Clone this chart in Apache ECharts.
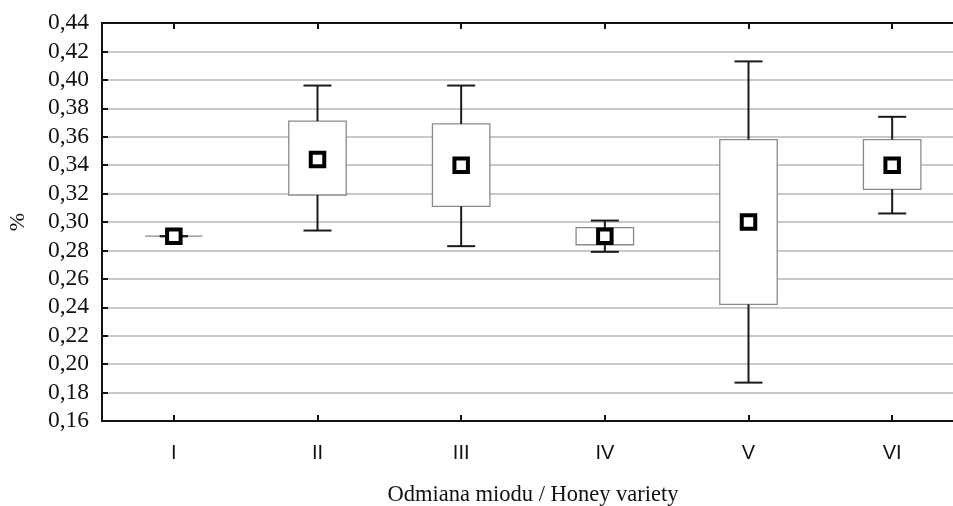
<!DOCTYPE html>
<html>
<head>
<meta charset="utf-8">
<script src="https://cdn.jsdelivr.net/npm/echarts@6/dist/echarts.min.js"></script>
<style>
  html, body { margin: 0; padding: 0; background: #fff; overflow: hidden; }
  #chart { width: 953px; height: 506px; }
</style>
</head>
<body>
<div id="chart"></div>
<script>
// Data
const categories   = ['I', 'II', 'III', 'IV', 'V', 'VI'];
const whiskerLow   = [0.290, 0.294, 0.283, 0.279, 0.187, 0.306];
const boxLow       = [0.290, 0.319, 0.311, 0.284, 0.242, 0.323];
const meanValue    = [0.290, 0.344, 0.340, 0.290, 0.300, 0.340];
const boxHigh      = [0.290, 0.371, 0.369, 0.296, 0.358, 0.358];
const whiskerHigh  = [0.290, 0.396, 0.396, 0.301, 0.413, 0.374];
const yTickValues  = [0.16, 0.18, 0.20, 0.22, 0.24, 0.26, 0.28, 0.30, 0.32, 0.34, 0.36, 0.38, 0.40, 0.42, 0.44];

const seriesData = categories.map((c, i) => [i, whiskerLow[i], boxLow[i], meanValue[i], boxHigh[i], whiskerHigh[i]]);

const chart = echarts.init(document.getElementById('chart'), null, { renderer: 'canvas' });

function renderItem(params, api) {
  const idx = api.value(0);
  const band = api.size([1, 0])[0];
  const boxW = band * 0.40;
  const capW = band * 0.195;
  const pWL = api.coord([idx, api.value(1)]);
  const pBL = api.coord([idx, api.value(2)]);
  const pM  = api.coord([idx, api.value(3)]);
  const pBH = api.coord([idx, api.value(4)]);
  const pWH = api.coord([idx, api.value(5)]);
  const x = pM[0];
  const black = '#1a1a1a';
  const children = [];
  children.push({
    type: 'rect',
    shape: { x: x - boxW / 2, y: pBH[1], width: boxW, height: Math.max(pBL[1] - pBH[1], 0) },
    style: { fill: '#ffffff', stroke: '#8a8a8a', lineWidth: 1.3 }
  });
  children.push({
    type: 'line',
    shape: { x1: x, y1: pWH[1], x2: x, y2: pBH[1] },
    style: { stroke: black, lineWidth: 2 }
  });
  children.push({
    type: 'line',
    shape: { x1: x, y1: pBL[1], x2: x, y2: pWL[1] },
    style: { stroke: black, lineWidth: 2 }
  });
  children.push({
    type: 'line',
    shape: { x1: x - capW / 2, y1: pWH[1], x2: x + capW / 2, y2: pWH[1] },
    style: { stroke: black, lineWidth: 2 }
  });
  children.push({
    type: 'line',
    shape: { x1: x - capW / 2, y1: pWL[1], x2: x + capW / 2, y2: pWL[1] },
    style: { stroke: black, lineWidth: 2 }
  });
  const s = 13.5;
  children.push({
    type: 'rect',
    shape: { x: x - s / 2, y: pM[1] - s / 2, width: s, height: s },
    style: { fill: '#ffffff', stroke: '#000000', lineWidth: 4 }
  });
  return { type: 'group', children: children };
}

const option = {
  animation: false,
  backgroundColor: '#ffffff',
  grid: { left: 102, top: 23, width: 862, height: 398, containLabel: false, outerBoundsMode: 'none' },
  xAxis: [
    {
      type: 'category',
      data: categories,
      position: 'bottom',
      boundaryGap: true,
      axisLine: { show: true, lineStyle: { color: '#111', width: 2 } },
      axisTick: { show: true, inside: true, alignWithLabel: true, length: 6, lineStyle: { color: '#111', width: 2 } },
      axisLabel: { show: true, margin: 22, fontFamily: 'Liberation Sans', fontSize: 20, color: '#111' },
      splitLine: { show: false },
      name: 'Odmiana miodu / Honey variety',
      nameLocation: 'middle',
      nameGap: 63,
      nameTextStyle: { fontFamily: 'Liberation Serif', fontSize: 22.5, color: '#111' }
    },
    {
      type: 'category',
      data: categories,
      position: 'top',
      boundaryGap: true,
      axisLine: { show: true, lineStyle: { color: '#111', width: 2 } },
      axisTick: { show: true, inside: true, alignWithLabel: true, length: 6, lineStyle: { color: '#111', width: 2 } },
      axisLabel: { show: false },
      splitLine: { show: false }
    }
  ],
  yAxis: {
    type: 'value',
    min: yTickValues[0],
    max: yTickValues[yTickValues.length - 1],
    interval: 0.02,
    axisLine: { show: true, lineStyle: { color: '#111', width: 2 } },
    axisTick: { show: true, inside: true, length: 6, lineStyle: { color: '#111', width: 2 } },
    axisLabel: {
      margin: 13,
      fontFamily: 'Liberation Serif',
      fontSize: 23.5,
      color: '#111',
      formatter: v => v.toFixed(2).replace('.', ',')
    },
    splitLine: { show: true, lineStyle: { color: '#c9c9c9', width: 2 } },
    name: '%',
    nameLocation: 'middle',
    nameGap: 73,
    nameRotate: 90,
    nameTextStyle: { fontFamily: 'Liberation Serif', fontSize: 22, color: '#111' }
  },
  series: [{
    type: 'custom',
    renderItem: renderItem,
    xAxisIndex: 0,
    yAxisIndex: 0,
    encode: { x: 0, y: [1, 2, 3, 4, 5] },
    data: seriesData,
    clip: false,
    z: 5
  }]
};

chart.setOption(option);
</script>
</body>
</html>
